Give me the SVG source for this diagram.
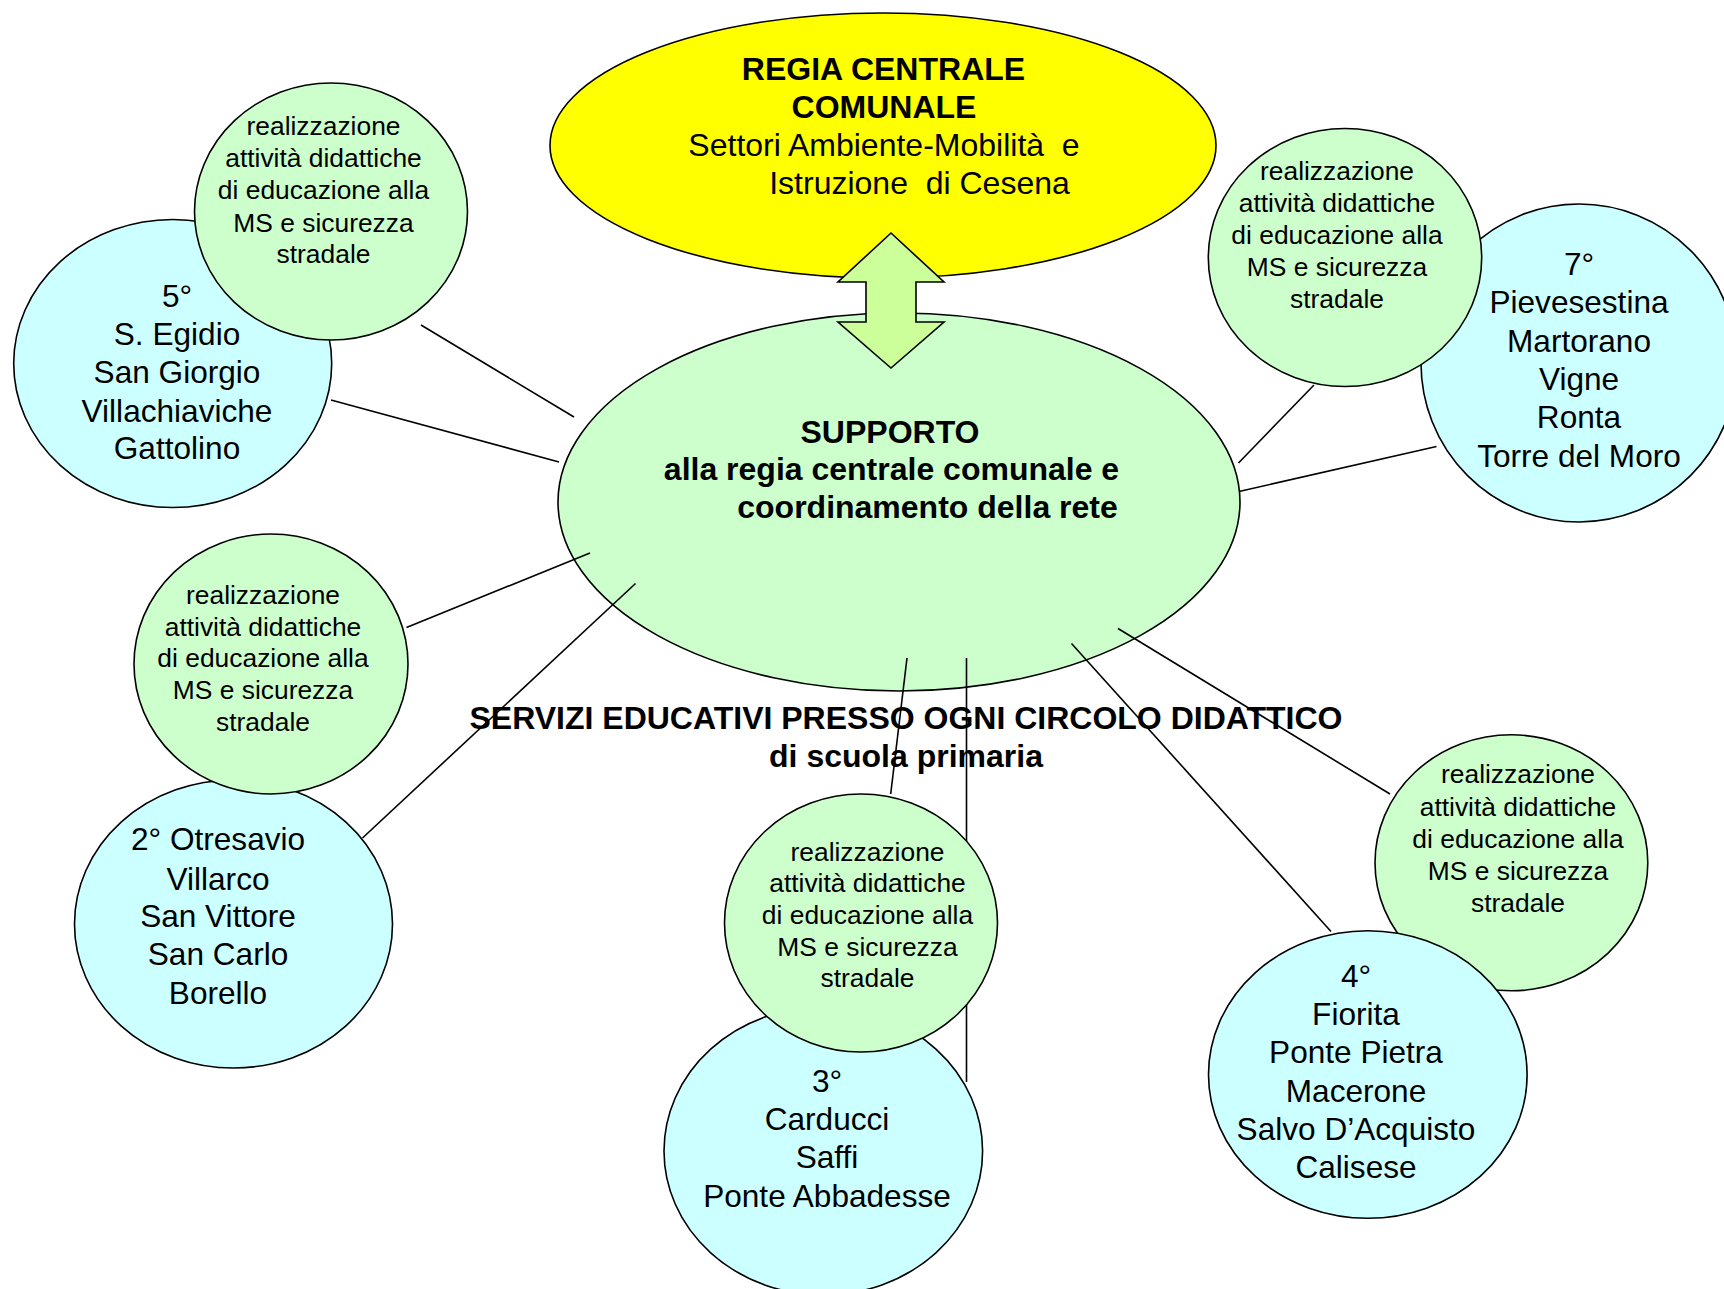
<svg xmlns="http://www.w3.org/2000/svg" width="1724" height="1289" viewBox="0 0 1724 1289">
<style>
  .shape{stroke:#000;stroke-width:1.6}
  .yellow{fill:#FFFF00}
  .green{fill:#CCFFCC}
  .cyan{fill:#CCFFFF}
  .arrow{fill:#CCFF99;stroke:#000;stroke-width:1.6}
  .conn line{stroke:#000;stroke-width:1.6}
  text{font-family:"Liberation Sans",Arial,sans-serif;fill:#000;text-anchor:middle;white-space:pre}
  .big{font-size:32px}
  .bold{font-weight:bold}
  .small{font-size:26.4px}
  .place{font-size:31.6px}
</style>
<rect width="1724" height="1289" fill="#fff"/>
<g id="regia">
  <ellipse class="shape yellow" cx="883" cy="145.5" rx="333" ry="132.5"/>
  <text class="big bold" x="883.5" y="80">REGIA CENTRALE</text>
  <text class="big bold" x="884" y="118">COMUNALE</text>
  <text class="big" x="884" y="156">Settori Ambiente-Mobilità  e</text>
  <text class="big" x="919.5" y="194">Istruzione  di Cesena</text>
</g>
<g id="supporto">
  <ellipse class="shape green" cx="899" cy="502" rx="341" ry="189"/>
  <text class="big bold" x="890" y="443">SUPPORTO</text>
  <text class="big bold" x="891.5" y="480">alla regia centrale comunale e</text>
  <text class="big bold" x="927.5" y="518">coordinamento della rete</text>
</g>
<g id="servizi-label">
  <text class="big bold" x="906" y="729">SERVIZI EDUCATIVI PRESSO OGNI CIRCOLO DIDATTICO</text>
  <text class="big bold" x="906" y="767">di scuola primaria</text>
</g>
<g id="connectors" class="conn">
  <line x1="421" y1="325" x2="574" y2="417"/>
  <line x1="331" y1="400" x2="559" y2="462"/>
  <line x1="1314" y1="385" x2="1238.5" y2="463"/>
  <line x1="1436.5" y1="446.5" x2="1239" y2="491.5"/>
  <line x1="406.5" y1="627.5" x2="590" y2="553"/>
  <line x1="362.5" y1="838" x2="635.5" y2="583.5"/>
  <line x1="907" y1="658" x2="890.7" y2="794"/>
  <line x1="966.5" y1="658" x2="966.5" y2="1082"/>
  <line x1="1118" y1="628.5" x2="1390" y2="794"/>
  <line x1="1071.5" y1="643.5" x2="1331" y2="931.5"/>
</g>
<g id="arrow">
  <polygon class="arrow" points="891,233 944,282 916,282 916,322 944,322 891,368 838,322 866,322 866,282 838,282"/>
</g>
<g id="circolo5">
  <ellipse class="shape cyan" cx="172.7" cy="363.5" rx="159" ry="144"/>
  <text class="place" x="177" y="306.7">5°</text>
  <text class="place" x="177" y="345">S. Egidio</text>
  <text class="place" x="177" y="383">San Giorgio</text>
  <text class="place" x="177" y="421.7">Villachiaviche</text>
  <text class="place" x="177" y="459">Gattolino</text>
</g>
<g id="attivita5">
  <ellipse class="shape green" cx="331" cy="211.5" rx="136.5" ry="128.5"/>
  <text class="small" x="323.5" y="135">realizzazione</text>
  <text class="small" x="323.5" y="167">attività didattiche</text>
  <text class="small" x="323.5" y="199">di educazione alla</text>
  <text class="small" x="323.5" y="232">MS e sicurezza</text>
  <text class="small" x="323.5" y="263">stradale</text>
</g>
<g id="circolo7">
  <ellipse class="shape cyan" cx="1579" cy="363" rx="158" ry="159"/>
  <text class="place" x="1579" y="275">7°</text>
  <text class="place" x="1579" y="313.3">Pievesestina</text>
  <text class="place" x="1579" y="351.7">Martorano</text>
  <text class="place" x="1579" y="390">Vigne</text>
  <text class="place" x="1579" y="428.3">Ronta</text>
  <text class="place" x="1579" y="466.7">Torre del Moro</text>
</g>
<g id="attivita7">
  <ellipse class="shape green" cx="1345" cy="257.5" rx="136.7" ry="129"/>
  <text class="small" x="1337" y="180">realizzazione</text>
  <text class="small" x="1337" y="211.7">attività didattiche</text>
  <text class="small" x="1337" y="244">di educazione alla</text>
  <text class="small" x="1337" y="276">MS e sicurezza</text>
  <text class="small" x="1337" y="307.7">stradale</text>
</g>
<g id="circolo2">
  <ellipse class="shape cyan" cx="233.5" cy="924" rx="159" ry="144"/>
  <text class="place" x="218" y="850.4">2° Otresavio</text>
  <text class="place" x="218" y="889.6">Villarco</text>
  <text class="place" x="218" y="927">San Vittore</text>
  <text class="place" x="218" y="964.6">San Carlo</text>
  <text class="place" x="218" y="1004">Borello</text>
</g>
<g id="attivita2">
  <ellipse class="shape green" cx="271" cy="664" rx="137" ry="130"/>
  <text class="small" x="263" y="603.9">realizzazione</text>
  <text class="small" x="263" y="636">attività didattiche</text>
  <text class="small" x="263" y="667">di educazione alla</text>
  <text class="small" x="263" y="698.6">MS e sicurezza</text>
  <text class="small" x="263" y="730.7">stradale</text>
</g>
<g id="circolo3">
  <ellipse class="shape cyan" cx="823.3" cy="1151" rx="159.3" ry="144"/>
  <text class="place" x="827" y="1091.7">3°</text>
  <text class="place" x="827" y="1130">Carducci</text>
  <text class="place" x="827" y="1168.3">Saffi</text>
  <text class="place" x="827" y="1206.7">Ponte Abbadesse</text>
</g>
<g id="attivita3">
  <ellipse class="shape green" cx="861" cy="923" rx="136.5" ry="129"/>
  <text class="small" x="867.5" y="860.7">realizzazione</text>
  <text class="small" x="867.5" y="891.7">attività didattiche</text>
  <text class="small" x="867.5" y="924">di educazione alla</text>
  <text class="small" x="867.5" y="955.7">MS e sicurezza</text>
  <text class="small" x="867.5" y="987.3">stradale</text>
</g>
<g id="attivita4">
  <ellipse class="shape green" cx="1511.4" cy="862.8" rx="136.4" ry="128"/>
  <text class="small" x="1518" y="783.3">realizzazione</text>
  <text class="small" x="1518" y="816">attività didattiche</text>
  <text class="small" x="1518" y="848.3">di educazione alla</text>
  <text class="small" x="1518" y="880">MS e sicurezza</text>
  <text class="small" x="1518" y="912.3">stradale</text>
</g>
<g id="circolo4">
  <ellipse class="shape cyan" cx="1367.8" cy="1074.5" rx="159.3" ry="143.8"/>
  <text class="place" x="1356" y="986.7">4°</text>
  <text class="place" x="1356" y="1025">Fiorita</text>
  <text class="place" x="1356" y="1063.3">Ponte Pietra</text>
  <text class="place" x="1356" y="1101.7">Macerone</text>
  <text class="place" x="1356" y="1140">Salvo D’Acquisto</text>
  <text class="place" x="1356" y="1178.3">Calisese</text>
</g>
</svg>
